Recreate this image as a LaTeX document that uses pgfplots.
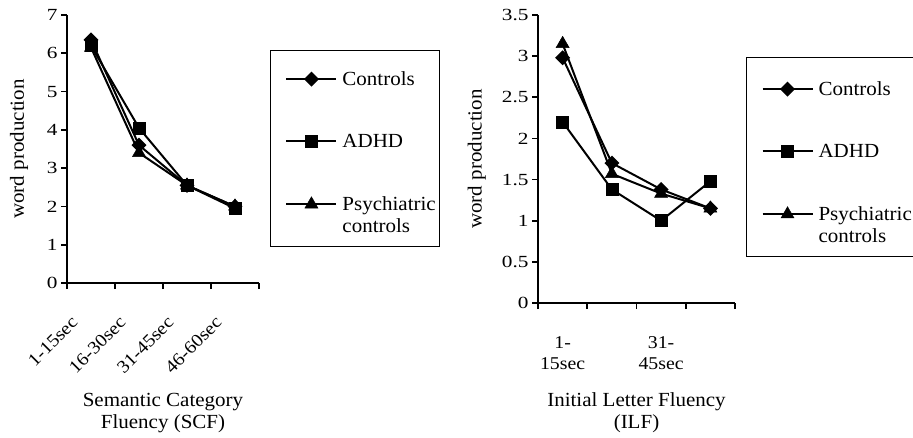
\documentclass[border=0pt]{standalone}
\usepackage{fontspec}
\setmainfont[FakeStretch=1.05]{Liberation Serif}
\newfontfamily\ytickfont[FakeStretch=1.25]{Liberation Serif}
\newfontfamily\xtickfont[FakeStretch=1.1]{Liberation Serif}
\usepackage{pgfplots}
\pgfplotsset{compat=1.18}
\pgfplotsset{
  common/.style={
    scale only axis,
    axis lines=left,
    axis line style={line width=1.8bp, -},
    tick align=outside,
    tick pos=left,
    xmin=-0.5, xmax=3.5, ymin=0,
    xtick={0,1,2,3},
    minor xtick={-0.5,0.5,1.5,2.5,3.5},
    major x tick style={draw=none},
    minor x tick style={line width=1.8bp, black},
    ytick style={line width=1.8bp, black},
    major tick length=6bp, minor tick length=6bp,
    /pgf/number format/assume math mode=true,
    yticklabel style={font=\ytickfont\fontsize{17bp}{20bp}\selectfont},
    xticklabel style={font=\xtickfont\fontsize{18bp}{21bp}\selectfont},
    label style={font=\fontsize{20bp}{22bp}\selectfont},
    every axis plot/.append style={black, line width=2bp, mark options={solid, fill=black, line width=0.5bp}},
    legend style={
      draw=black, line width=1bp, fill=white,
      font=\fontsize{20bp}{22bp}\selectfont,
      inner xsep=4bp, inner ysep=12bp,
      row sep=47.5bp, column sep=5bp,
      cells={anchor=base west},
      nodes={inner sep=0pt},
    },
    legend image code/.code={\path (-11bp,6.5bp); \draw[mark repeat=2,mark phase=2,##1] plot coordinates {(0bp,6.5bp)(25bp,6.5bp)(50bp,6.5bp)};},
  },
  ctrl/.style={mark=square*, mark size=4.3bp, mark options={rotate=45}},
  adhd/.style={mark=square*, mark size=6bp},
  psy/.style={mark=triangle*, mark size=7.5bp},
}
\begin{document}
\begin{tikzpicture}
\path[use as bounding box] (0,0) rectangle (913bp,-438bp);
% Left: Semantic Category Fluency
\begin{axis}[common,
  at={(67bp,-283bp)}, anchor=south west,
  width=192bp, height=268bp,
  ymax=7, ytick={0,1,...,7},
  yticklabels={0,1,2,3,4,5,6,7},
  xticklabels={1-15sec,16-30sec,31-45sec,46-60sec},
  xticklabel style={xshift=-14bp, yshift=-28bp, rotate=45, anchor=east},
  ylabel={word production},
  ylabel style={at={(axis description cs:-0.25,0.5)}, anchor=center},
  xlabel={Semantic Category\\Fluency (SCF)},
  xlabel style={at={(axis description cs:0.5,-0.41)}, anchor=north, align=center, inner sep=0pt},
  legend style={at={(1.057,0.869)}, anchor=north west},
]
\addplot[ctrl] coordinates {(0,6.35) (1,3.6) (2,2.55) (3,2.0)};
\addlegendentry{\rule{0pt}{23bp}Controls}
\addplot[adhd] coordinates {(0,6.2) (1,4.05) (2,2.55) (3,1.95)};
\addlegendentry{ADHD}
\addplot[psy] coordinates {(0,6.15) (1,3.4) (2,2.55) (3,2.0)};
\addlegendentry[align=left, yshift=-22bp]{Psychiatric\\controls}
\end{axis}
% Right: Initial Letter Fluency
\begin{axis}[common,
  at={(538bp,-303bp)}, anchor=south west,
  width=197bp, height=288bp,
  ymax=3.5, ytick={0,0.5,...,3.5},
  yticklabels={0,0.5,1,1.5,2,2.5,3,3.5},
  xticklabels={{1-\\15sec},{},{31-\\45sec},{}},
  xticklabel style={align=center, anchor=north, yshift=-24bp},
  ylabel={word production},
  ylabel style={at={(axis description cs:-0.31,0.5)}, anchor=center},
  xlabel={Initial Letter Fluency\\(ILF)},
  xlabel style={at={(axis description cs:0.5,-0.309)}, anchor=north, align=center, inner sep=0pt},
  legend style={at={(1.056,0.854)}, anchor=north west},
]
\addplot[ctrl] coordinates {(0,2.98) (1,1.7) (2,1.38) (3,1.15)};
\addlegendentry{\rule{0pt}{26bp}Controls}
\addplot[adhd] coordinates {(0,2.2) (1,1.38) (2,1.0) (3,1.48)};
\addlegendentry{ADHD}
\addplot[psy] coordinates {(0,3.15) (1,1.57) (2,1.33) (3,1.15)};
\addlegendentry[align=left, yshift=-22bp]{Psychiatric\\controls}
\end{axis}
\end{tikzpicture}
\end{document}
